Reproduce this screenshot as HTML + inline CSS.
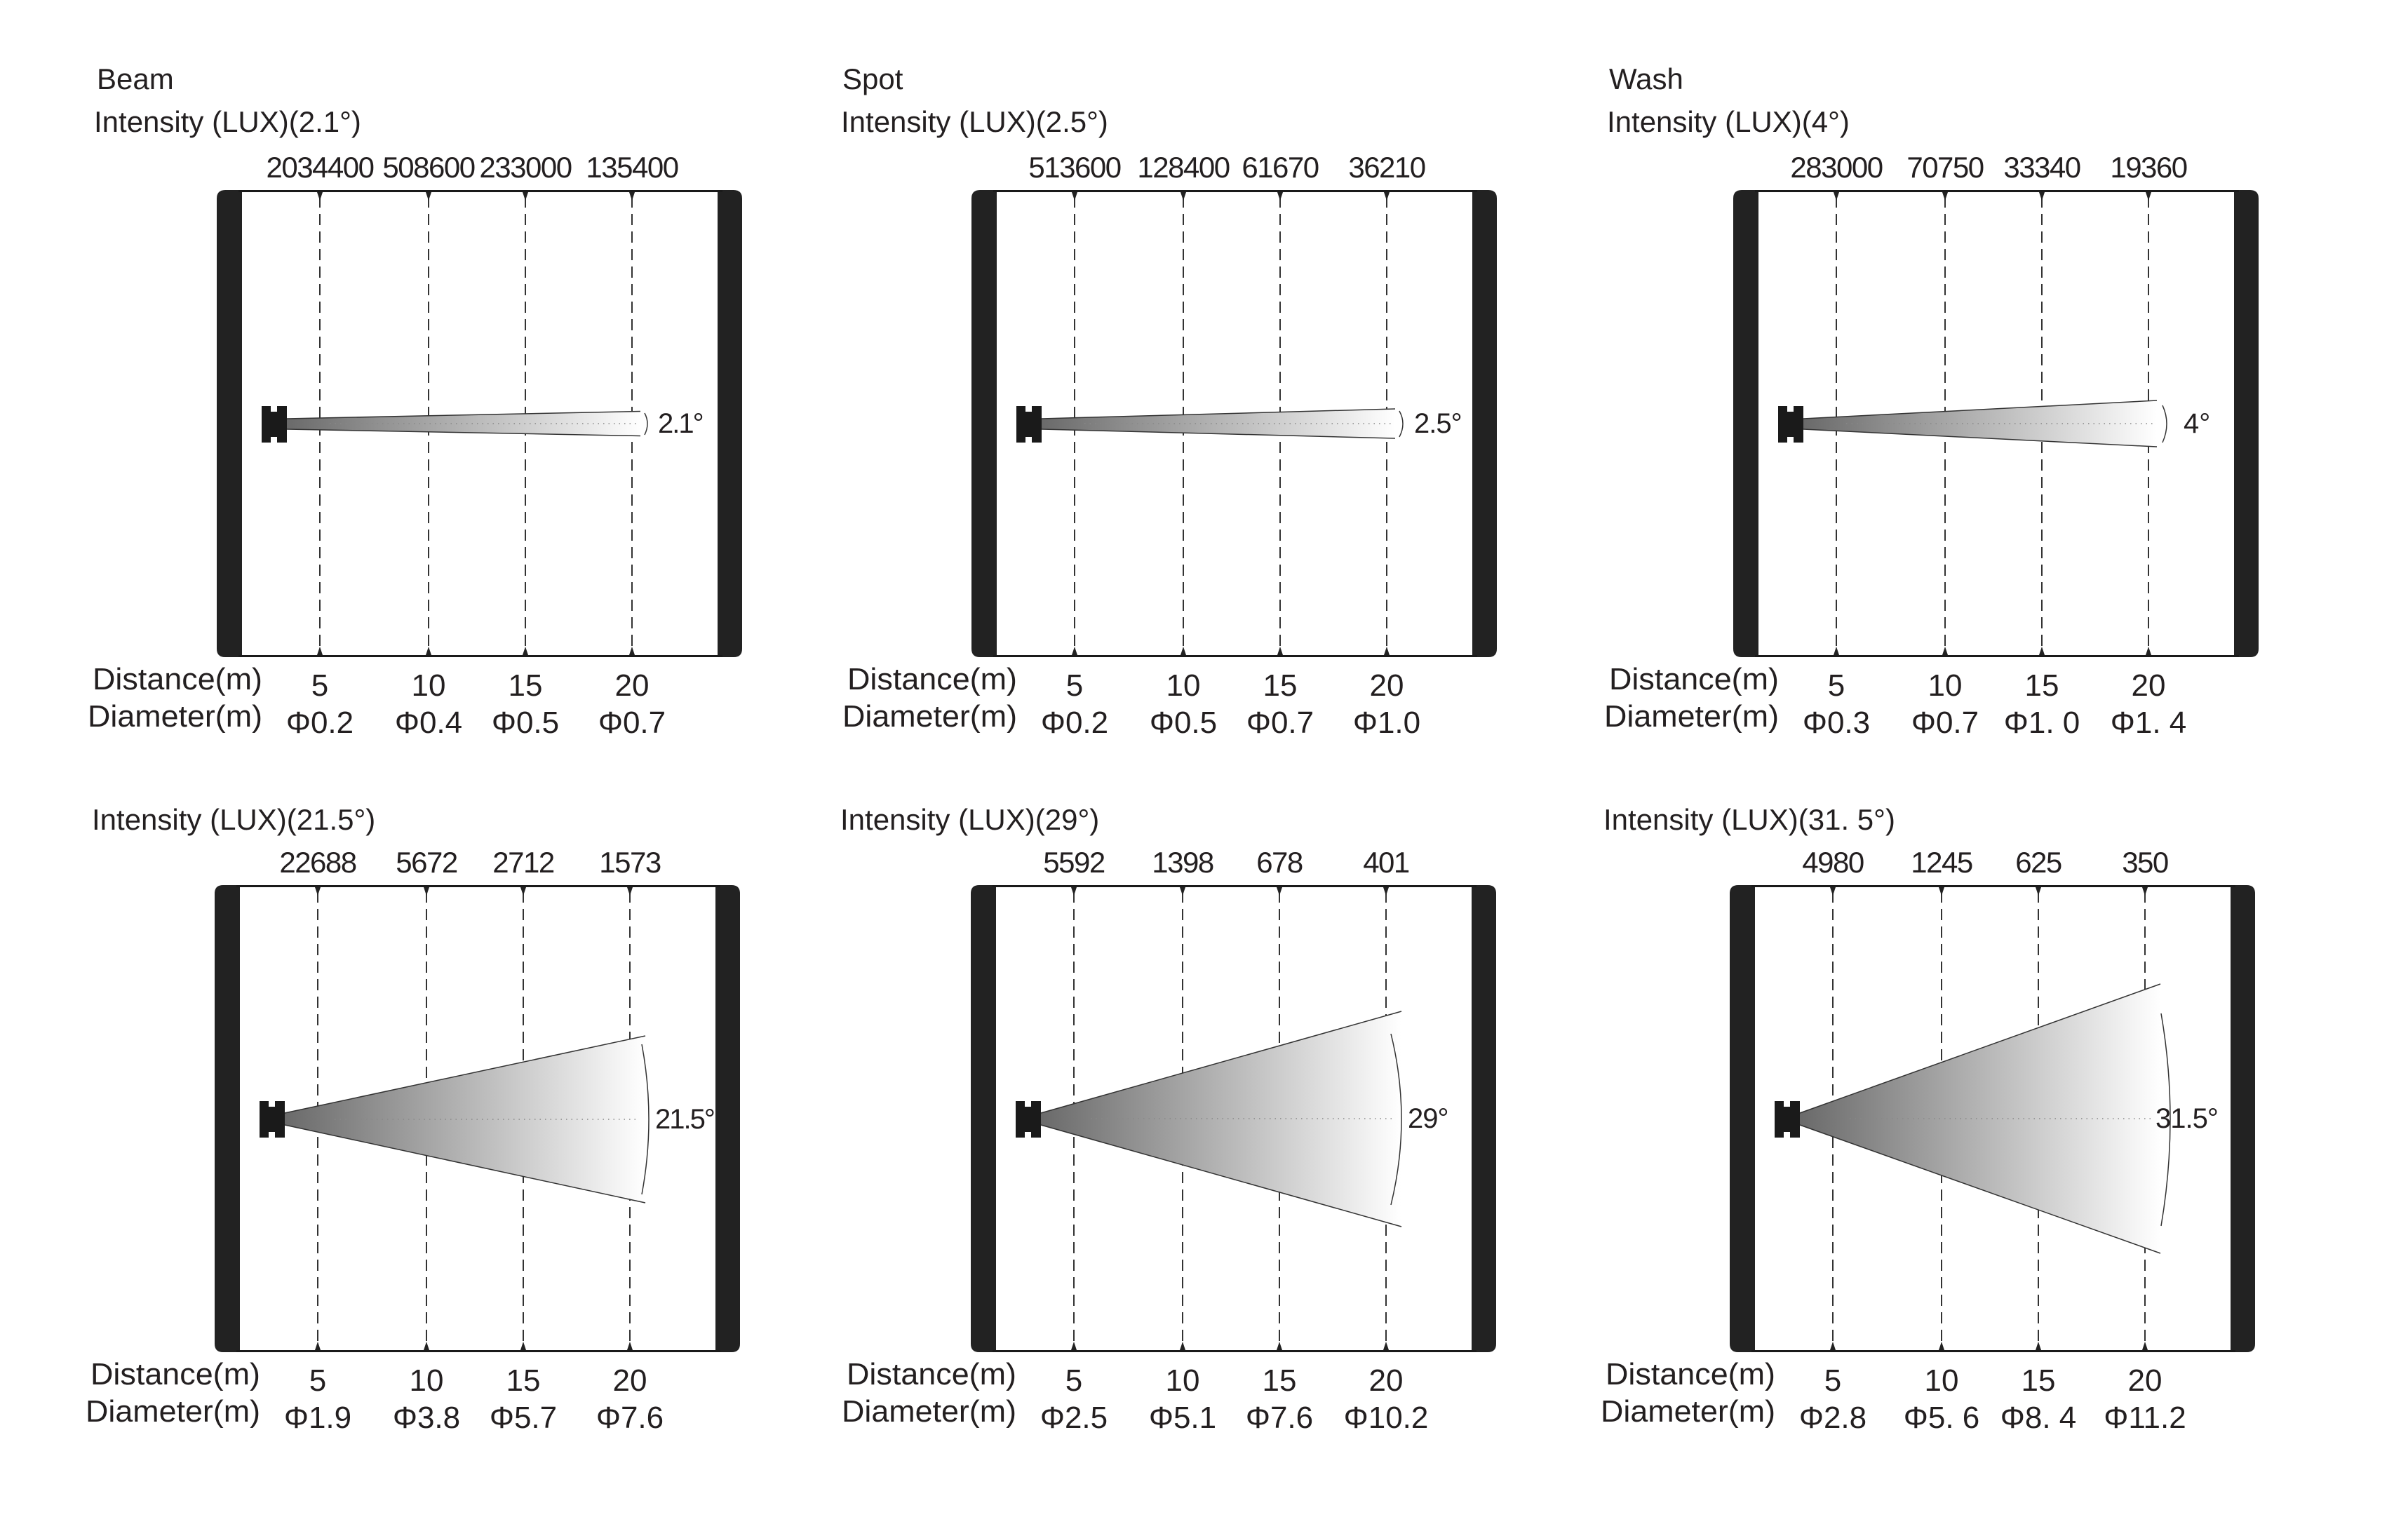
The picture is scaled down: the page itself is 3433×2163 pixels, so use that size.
<!DOCTYPE html>
<html><head><meta charset="utf-8"><style>
html,body{margin:0;padding:0;background:#fff;}
svg{display:block;}
text{font-family:"Liberation Sans",sans-serif;fill:#231f20;}
.v{letter-spacing:-1.5px;}
</style></head><body>
<svg width="3433" height="2163" viewBox="0 0 3433 2163" xmlns="http://www.w3.org/2000/svg">
<defs>
<linearGradient id="g1" gradientUnits="userSpaceOnUse" x1="409" y1="0" x2="913" y2="0"><stop offset="0" stop-color="#6a6a6a"/><stop offset="1" stop-color="#ffffff"/></linearGradient>
<linearGradient id="g2" gradientUnits="userSpaceOnUse" x1="409" y1="0" x2="923" y2="0"><stop offset="0" stop-color="#6a6a6a"/><stop offset="1" stop-color="#ffffff"/></linearGradient>
<g id="frame">
<path d="M345,271 H321 Q309,271 309,283 V925 Q309,937 321,937 H345 Z" fill="#222"/>
<path d="M1023,271 H1046 Q1058,271 1058,283 V925 Q1058,937 1046,937 H1023 Z" fill="#222"/>
<line x1="340" y1="272.5" x2="1030" y2="272.5" stroke="#1a1a1a" stroke-width="3"/>
<line x1="340" y1="935.5" x2="1030" y2="935.5" stroke="#1a1a1a" stroke-width="3"/>
<g stroke="#333" stroke-width="2" stroke-dasharray="16 9">
<line x1="456" y1="280" x2="456" y2="930"/><line x1="611" y1="280" x2="611" y2="930"/><line x1="749" y1="280" x2="749" y2="930"/><line x1="901" y1="280" x2="901" y2="930"/>
</g>
<g fill="#222">
<polygon points="452,274 460,274 456,286"/><polygon points="607,274 615,274 611,286"/><polygon points="745,274 753,274 749,286"/><polygon points="897,274 905,274 901,286"/>
<polygon points="452,934 460,934 456,922"/><polygon points="607,934 615,934 611,922"/><polygon points="745,934 753,934 749,922"/><polygon points="897,934 905,934 901,922"/>
</g>
<path d="M373,579 H386 V587 H395 V579 H409 V631 H395 V623 H386 V631 H373 Z" fill="#1a1a1a"/>
<text x="132" y="983" font-size="44" textLength="242" lengthAdjust="spacingAndGlyphs">Distance(m)</text>
<text x="125" y="1036" font-size="44" textLength="249" lengthAdjust="spacingAndGlyphs">Diameter(m)</text>
<g font-size="44" text-anchor="middle"><text x="456" y="992">5</text><text x="611" y="992">10</text><text x="749" y="992">15</text><text x="901" y="992">20</text></g>
</g>
</defs>

<!-- Panel 1 -->
<g>
<use href="#frame"/>
<text x="138" y="127" font-size="42">Beam</text>
<text x="134" y="188" font-size="42">Intensity (LUX)(2.1°)</text>
<g font-size="42" text-anchor="middle" class="v"><text x="456" y="253">2034400</text><text x="611" y="253">508600</text><text x="749" y="253">233000</text><text x="901" y="253">135400</text></g>
<polygon points="409,597 913,586.5 913,621.5 409,612" fill="url(#g1)"/>
<line x1="409" y1="597" x2="913" y2="586.5" stroke="#333" stroke-width="1.5"/><line x1="409" y1="612" x2="913" y2="621.5" stroke="#333" stroke-width="1.5"/>
<line x1="470" y1="604" x2="910" y2="604" stroke="#888" stroke-width="1.5" stroke-dasharray="1.5 6"/>
<path d="M919,589 Q927,604 919,620" fill="none" stroke="#333" stroke-width="1.5"/>
<text x="938" y="617" font-size="40" letter-spacing="-2">2.1°</text>
<g font-size="44" text-anchor="middle"><text x="456" y="1045">Φ0.2</text><text x="611" y="1045">Φ0.4</text><text x="749" y="1045">Φ0.5</text><text x="901" y="1045">Φ0.7</text></g>
</g>

<!-- Panel 2 -->
<g transform="translate(1076,0)">
<use href="#frame"/>
<text x="125" y="127" font-size="42">Spot</text>
<text x="123" y="188" font-size="42">Intensity (LUX)(2.5°)</text>
<g font-size="42" text-anchor="middle" class="v"><text x="456" y="253">513600</text><text x="611" y="253">128400</text><text x="749" y="253">61670</text><text x="901" y="253">36210</text></g>
<polygon points="409,597 913,583 913,625 409,612" fill="url(#g1)"/>
<line x1="409" y1="597" x2="913" y2="583" stroke="#333" stroke-width="1.5"/><line x1="409" y1="612" x2="913" y2="625" stroke="#333" stroke-width="1.5"/>
<line x1="470" y1="604" x2="910" y2="604" stroke="#888" stroke-width="1.5" stroke-dasharray="1.5 6"/>
<path d="M919,586 Q929,604 919,623" fill="none" stroke="#333" stroke-width="1.5"/>
<text x="940" y="617" font-size="40" letter-spacing="-1">2.5°</text>
<g font-size="44" text-anchor="middle"><text x="456" y="1045">Φ0.2</text><text x="611" y="1045">Φ0.5</text><text x="749" y="1045">Φ0.7</text><text x="901" y="1045">Φ1.0</text></g>
</g>

<!-- Panel 3 -->
<g transform="translate(2162,0)">
<use href="#frame"/>
<text x="132" y="127" font-size="42">Wash</text>
<text x="129" y="188" font-size="42">Intensity (LUX)(4°)</text>
<g font-size="42" text-anchor="middle" class="v"><text x="456" y="253">283000</text><text x="611" y="253">70750</text><text x="749" y="253">33340</text><text x="901" y="253">19360</text></g>
<polygon points="409,597 913,571 913,637 409,612" fill="url(#g1)"/>
<line x1="409" y1="597" x2="913" y2="571" stroke="#333" stroke-width="1.5"/><line x1="409" y1="612" x2="913" y2="637" stroke="#333" stroke-width="1.5"/>
<line x1="470" y1="604" x2="910" y2="604" stroke="#888" stroke-width="1.5" stroke-dasharray="1.5 6"/>
<path d="M921,578 Q933,604 921,631" fill="none" stroke="#333" stroke-width="1.5"/>
<text x="951" y="617" font-size="40">4°</text>
<g font-size="44" text-anchor="middle"><text x="456" y="1045">Φ0.3</text><text x="611" y="1045">Φ0.7</text><text x="749" y="1045">Φ1. 0</text><text x="901" y="1045">Φ1. 4</text></g>
</g>

<!-- Panel 4 -->
<g transform="translate(-3,991)">
<use href="#frame"/>
<text x="134" y="192" font-size="42">Intensity (LUX)(21.5°)</text>
<g font-size="42" text-anchor="middle" class="v"><text x="456" y="253">22688</text><text x="611" y="253">5672</text><text x="749" y="253">2712</text><text x="901" y="253">1573</text></g>
<polygon points="409,596 923,486 923,724 409,613" fill="url(#g2)"/>
<line x1="409" y1="596" x2="923" y2="486" stroke="#333" stroke-width="1.5"/><line x1="409" y1="613" x2="923" y2="724" stroke="#333" stroke-width="1.5"/>
<line x1="480" y1="605" x2="910" y2="605" stroke="#888" stroke-width="1.5" stroke-dasharray="1.5 6"/>
<path d="M918,498 Q938,605 918,712" fill="none" stroke="#333" stroke-width="1.5"/>
<text x="937" y="618" font-size="40" letter-spacing="-2">21.5°</text>
<g font-size="44" text-anchor="middle"><text x="456" y="1045">Φ1.9</text><text x="611" y="1045">Φ3.8</text><text x="749" y="1045">Φ5.7</text><text x="901" y="1045">Φ7.6</text></g>
</g>

<!-- Panel 5 -->
<g transform="translate(1075,991)">
<use href="#frame"/>
<text x="123" y="192" font-size="42">Intensity (LUX)(29°)</text>
<g font-size="42" text-anchor="middle" class="v"><text x="456" y="253">5592</text><text x="611" y="253">1398</text><text x="749" y="253">678</text><text x="901" y="253">401</text></g>
<polygon points="409,596 923,451 923,758 409,613" fill="url(#g2)"/>
<line x1="409" y1="596" x2="923" y2="451" stroke="#333" stroke-width="1.5"/><line x1="409" y1="613" x2="923" y2="758" stroke="#333" stroke-width="1.5"/>
<line x1="480" y1="604" x2="910" y2="604" stroke="#888" stroke-width="1.5" stroke-dasharray="1.5 6"/>
<path d="M908,483 Q938,604 908,727" fill="none" stroke="#333" stroke-width="1.5"/>
<text x="932" y="617" font-size="40" letter-spacing="-1">29°</text>
<g font-size="44" text-anchor="middle"><text x="456" y="1045">Φ2.5</text><text x="611" y="1045">Φ5.1</text><text x="749" y="1045">Φ7.6</text><text x="901" y="1045">Φ10.2</text></g>
</g>

<!-- Panel 6 -->
<g transform="translate(2157,991)">
<use href="#frame"/>
<text x="129" y="192" font-size="42">Intensity (LUX)(31. 5°)</text>
<g font-size="42" text-anchor="middle" class="v"><text x="456" y="253">4980</text><text x="611" y="253">1245</text><text x="749" y="253">625</text><text x="901" y="253">350</text></g>
<polygon points="409,596 923,412 923,796 409,613" fill="url(#g2)"/>
<line x1="409" y1="596" x2="923" y2="412" stroke="#333" stroke-width="1.5"/><line x1="409" y1="613" x2="923" y2="796" stroke="#333" stroke-width="1.5"/>
<line x1="480" y1="604" x2="910" y2="604" stroke="#888" stroke-width="1.5" stroke-dasharray="1.5 6"/>
<path d="M924,454 Q950,604 924,757" fill="none" stroke="#333" stroke-width="1.5"/>
<text x="916" y="617" font-size="40" letter-spacing="-1">31.5°</text>
<g font-size="44" text-anchor="middle"><text x="456" y="1045">Φ2.8</text><text x="611" y="1045">Φ5. 6</text><text x="749" y="1045">Φ8. 4</text><text x="901" y="1045">Φ11.2</text></g>
</g>
</svg>
</body></html>
